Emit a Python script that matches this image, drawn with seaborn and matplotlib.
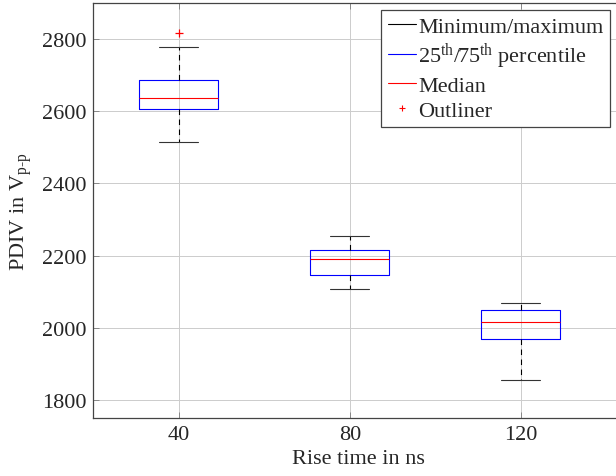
import numpy as np
import pandas as pd
import matplotlib
matplotlib.use("Agg")
import matplotlib.pyplot as plt
from matplotlib.lines import Line2D
import seaborn as sns

# ---- data ----
rise_time = [40, 80, 120]
minimum = [2514, 2108, 1855]
q25 = [2607, 2146, 1968]
median = [2638, 2191, 2016]
q75 = [2688, 2215, 2049]
maximum = [2779, 2253, 2070]
outlier_x = [40]
outlier_y = [2817]
y_ticks = [1800, 2000, 2200, 2400, 2600, 2800]
x_ticks = [40, 80, 120]

# five-number values per group -> long table (np.percentile of 5 values gives exactly these)
rows = []
for i, r in enumerate(rise_time):
    for v in (minimum[i], q25[i], median[i], q75[i], maximum[i]):
        rows.append({"rise": r, "pdiv": v})
df = pd.DataFrame(rows)
df_out = pd.DataFrame({"rise": outlier_x, "pdiv": outlier_y})

sns.set_theme(style="white")
plt.rcParams["font.family"] = ["Liberation Serif", "DejaVu Serif"]
plt.rcParams["mathtext.fontset"] = "custom"
plt.rcParams["mathtext.rm"] = "Liberation Serif"
plt.rcParams["mathtext.it"] = "Liberation Serif:italic"
plt.rcParams["mathtext.bf"] = "Liberation Serif:bold"

FS = 16
fig = plt.figure(figsize=(6.16, 4.77), dpi=100)
ax = fig.add_axes([93.3 / 616, 1 - 419 / 477, (623.4 - 93.3) / 616, (419 - 4) / 477])

lw = 0.8
sns.boxplot(
    data=df, x="rise", y="pdiv", native_scale=True, width=0.46, fill=False,
    whis=(0, 100), showfliers=False, linewidth=lw, color="blue",
    boxprops=dict(color="blue", linewidth=lw),
    medianprops=dict(color="red", linewidth=lw),
    whiskerprops=dict(color="black", linewidth=lw, linestyle=(0, (5, 4))),
    capprops=dict(color="#333333", linewidth=lw),
    ax=ax, zorder=3,
)
sns.scatterplot(data=df_out, x="rise", y="pdiv", marker="+", color="red",
                s=40, linewidth=0.9, ax=ax, zorder=4, legend=False)

ax.set_xlim(20, 144)
ax.set_ylim(1750, 2900)
ax.set_xticks(x_ticks)
ax.set_xticklabels([str(t) for t in x_ticks])
ax.set_yticks(y_ticks)
ax.set_yticklabels([str(t) for t in y_ticks])
ax.grid(True, color="#cccccc", linewidth=0.7, zorder=0)
ax.set_axisbelow(True)
ax.tick_params(axis="both", direction="in", length=4, width=0.7, color="#888888",
               labelsize=FS, top=True, right=True, bottom=True, left=True, pad=5)
for s in ax.spines.values():
    s.set_color("#444444")
    s.set_linewidth(0.9)
    s.set_visible(True)

ax.set_xlabel("Rise time in ns", fontsize=FS, labelpad=4)
ax.set_ylabel(r"PDIV in V$_{\mathrm{p\text{-}p}}$", fontsize=FS, labelpad=6)

handles = [
    Line2D([], [], color="black", linewidth=lw),
    Line2D([], [], color="blue", linewidth=lw),
    Line2D([], [], color="red", linewidth=lw),
    Line2D([], [], color="red", marker="+", linestyle="none", markersize=5, markeredgewidth=0.8),
]
labels = ["Minimum/maximum", r"25$^{\mathrm{th}}$/75$^{\mathrm{th}}$ percentile", "Median", "Outliner"]
leg = ax.legend(handles, labels, loc="upper right",
                bbox_to_anchor=((610 - 93.3) / (623.4 - 93.3), (419 - 11) / 415),
                borderaxespad=0, fontsize=FS, frameon=True, fancybox=False,
                edgecolor="#444444", framealpha=1, handlelength=1.25,
                handletextpad=0.1, labelspacing=0.18, borderpad=0.3)
leg.get_frame().set_linewidth(0.9)

fig.savefig("out.png", dpi=100)
